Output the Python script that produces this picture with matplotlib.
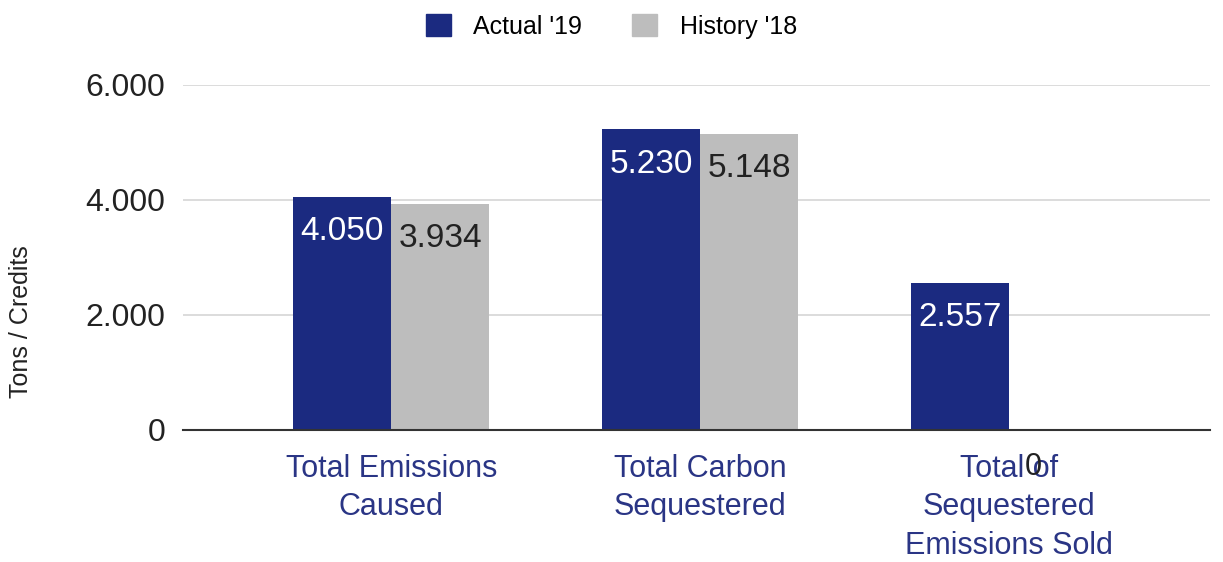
import matplotlib
matplotlib.use("Agg")
import matplotlib.pyplot as plt
from matplotlib.patches import Patch
import numpy as np

plt.rcParams["font.family"] = ["Liberation Sans", "DejaVu Sans"]

categories = ["Total Emissions\nCaused", "Total Carbon\nSequestered", "Total of\nSequestered\nEmissions Sold"]
actual_19 = [4050, 5230, 2557]
history_18 = [3934, 5148, 0]
series_names = ["Actual '19", "History '18"]

blue = "#1b2a80"
gray = "#bdbdbd"


def fmt(v):
    return f"{v:,}".replace(",", ".")


fig = plt.figure(figsize=(12.23, 5.62), dpi=100)
ax = fig.add_axes([0.150, 0.235, 0.839, 0.614])

x = np.arange(len(categories))
w = 0.318
b1 = ax.bar(x - w / 2, actual_19, w, color=blue, zorder=3)
b2 = ax.bar(x + w / 2, history_18, w, color=gray, zorder=3)

# value labels inside the top of each bar
for rect, v in zip(b1, actual_19):
    ax.annotate(fmt(v), (rect.get_x() + rect.get_width() / 2, v), xytext=(0, -14),
                textcoords="offset points", ha="center", va="top", fontsize=24, color="white", zorder=4)
for rect, v in zip(b2, history_18):
    if v > 0:
        ax.annotate(fmt(v), (rect.get_x() + rect.get_width() / 2, v), xytext=(0, -14),
                    textcoords="offset points", ha="center", va="top", fontsize=24, color="#222222", zorder=4)
    else:
        # zero value label drawn just under the axis, over the category text
        ax.annotate(fmt(v), (rect.get_x() + rect.get_width() / 2, v), xytext=(-18, -16),
                    textcoords="offset points", ha="center", va="top", fontsize=22, color="#222222", zorder=4)

ax.set_xlim(-0.673, 2.65)
ax.set_ylim(0, 6000)
ax.set_yticks([0, 2000, 4000, 6000])
ax.set_yticklabels([fmt(t) for t in [0, 2000, 4000, 6000]], fontsize=23, color="#222222")
ax.set_xticks(x)
ax.set_xticklabels(categories, fontsize=22, color="#2a3585", linespacing=1.38)
ax.tick_params(axis="both", length=0)
ax.tick_params(axis="y", pad=13)
ax.tick_params(axis="x", pad=17)
ax.grid(axis="y", color="#d6d6d6", linewidth=1.2, zorder=0)
for s in ["top", "right", "left"]:
    ax.spines[s].set_visible(False)
ax.spines["bottom"].set_color("#333333")
ax.spines["bottom"].set_linewidth(1.5)
ax.spines["bottom"].set_zorder(5)

ax.set_ylabel("Tons / Credits", fontsize=18, color="#222222")
ax.yaxis.set_label_coords(-0.147, 0.313)

handles = [Patch(color=blue), Patch(color=gray)]
fig.legend(handles, series_names, loc="upper center", bbox_to_anchor=(0.5, 1.015), ncol=2,
           frameon=False, fontsize=18, handlelength=1.0, handleheight=1.0, handletextpad=0.9,
           columnspacing=2.0)

fig.savefig("out.png", dpi=100, facecolor="white")
